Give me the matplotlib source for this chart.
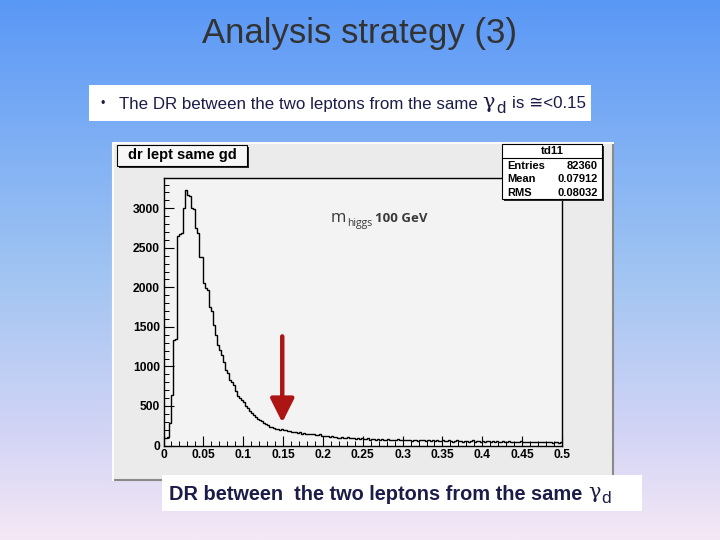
import numpy as np
import matplotlib
matplotlib.use("Agg")
import matplotlib.pyplot as plt
from matplotlib.patches import Rectangle
from matplotlib.ticker import MultipleLocator, FixedLocator, FixedFormatter

# ---------------- data ----------------
hist_name = "td11"
hist_title = "dr lept same gd"
x_range = (0.0, 0.5)
counts = [90, 100, 105, 280, 640, 1340, 1350, 2650, 2680, 2690, 3000, 3230, 3170, 3150, 3000, 2990, 2750, 2690, 2390, 2380,
          2050, 1990, 1965, 1750, 1700, 1520, 1400, 1270, 1210, 1150,
          1060, 960, 915, 830, 800, 760, 690, 620, 600, 570,
          550, 500, 470, 440, 410, 385, 362, 340, 320, 305,
          290, 270, 255, 240, 230, 220, 210, 205, 200, 210,
          195, 190, 185, 180, 175, 170, 165, 160, 165, 150,
          155, 150, 145, 140, 150, 145, 135, 130, 140, 125,
          120, 125, 115, 110, 120, 105, 110, 100, 95, 105,
          100, 95, 105, 90, 100, 95, 85, 90, 80, 95,
          85,
          80, 90, 75, 85, 80, 70, 85, 75, 80, 70,
          75, 80, 70, 65, 75, 70, 80, 65, 70, 75,
          65, 70, 75, 60, 70, 65, 60, 70, 65, 75,
          60, 65, 70, 55, 65, 60, 70, 60, 55, 65,
          60, 55, 65, 60, 50, 60, 65, 55, 60, 50,
          55, 60, 50, 55, 65, 50, 55, 60, 50, 55,
          50, 55, 60, 45, 55, 50, 55, 45, 50, 55,
          45, 50, 55, 45, 50, 40, 50, 45, 55, 45,
          50, 45, 40, 50, 45, 40, 50, 45, 40, 45,
          40, 45, 50, 40, 35, 45, 40, 35, 40]
stats_labels = ["Entries", "Mean", "RMS"]
stats_values = ["82360", "0.07912", "0.08032"]
x_ticks = [0, 0.05, 0.1, 0.15, 0.2, 0.25, 0.3, 0.35, 0.4, 0.45, 0.5]
x_ticklabels = ["0", "0.05", "0.1", "0.15", "0.2", "0.25", "0.3", "0.35", "0.4", "0.45", "0.5"]
y_ticks = [0, 500, 1000, 1500, 2000, 2500, 3000]
y_ticklabels = ["0", "500", "1000", "1500", "2000", "2500", "3000"]
cut_value = 0.149
slide_title = "Analysis strategy (3)"
bullet_text = "The DR between the two leptons from the same"
bullet_tail = "is \u2245<0.15"
caption_text = "DR between  the two leptons from the same"

W, H = 720, 540
fig = plt.figure(figsize=(W / 100, H / 100), dpi=100)

def rect(x0, y0, x1, y1):
    return [x0 / W, 1 - y1 / H, (x1 - x0) / W, (y1 - y0) / H]

SANS = ["Liberation Sans", "DejaVu Sans"]
GREEK = ["DejaVu Serif"]
NAVY = "#1c1c48"

# ---------------- background ----------------
bg = fig.add_axes([0, 0, 1, 1], zorder=0)
bg.set_xlim(0, W); bg.set_ylim(H, 0); bg.axis("off")
t = np.linspace(0, 1, 256)
stops = [0, 0.5, 0.8, 1.0]
cols = np.array([[90, 152, 246], [160, 196, 242], [210, 212, 245], [245, 232, 246]]) / 255
grad = np.stack([np.interp(t, stops, cols[:, c]) for c in range(3)], axis=1)
bg.imshow(grad[:, None, :], extent=[0, W, H, 0], aspect="auto", zorder=0)

bg.text(360, 34, slide_title, ha="center", va="center", fontsize=25, color="#333333", family=SANS)

bg.add_patch(Rectangle((89, 85), 502, 36, fc="white", ec="none", zorder=1))
bg.text(103, 104, "\u2022", ha="center", va="center", fontsize=9, color=NAVY, family=SANS, zorder=2)
t1 = bg.text(119, 104, bullet_text, ha="left", va="center", fontsize=12.2, color=NAVY, family=SANS, zorder=2)
g1 = bg.annotate("\u03b3", xy=(1, 0.5), xycoords=t1, xytext=(3, 1), textcoords="offset points",
                 ha="left", va="center", fontsize=15, color=NAVY, family=GREEK, zorder=2)
d1 = bg.annotate("d", xy=(1, 0.2), xycoords=g1, xytext=(1, 0), textcoords="offset points",
                 ha="left", va="center", fontsize=12, color=NAVY, family=SANS, zorder=2)
bg.annotate(bullet_tail, xy=(1, 0.5), xycoords=(d1, t1), xytext=(5, 0), textcoords="offset points",
            ha="left", va="center", fontsize=12.2, color=NAVY, family=SANS, zorder=2)

# ROOT canvas
bg.add_patch(Rectangle((113, 143), 500, 337, fc="#ebebeb", ec="none", zorder=1))
bg.plot([113, 613, 613], [480, 480, 143], color="#8a8a8a", lw=1.5, zorder=2)
bg.plot([113, 113, 613], [480, 143, 143], color="#fbfbfb", lw=1.5, zorder=2)

# ---------------- histogram ----------------
ax = fig.add_axes(rect(163.5, 178, 562, 445.5), zorder=1)
ax.set_facecolor("#f3f3f3")
edges = np.linspace(x_range[0], x_range[1], len(counts) + 1)
ax.stairs(counts, edges, color="black", lw=1.0, baseline=None)
ax.set_xlim(*x_range)
ax.set_ylim(0, 3383)
ax.xaxis.set_major_locator(FixedLocator(x_ticks))
ax.xaxis.set_major_formatter(FixedFormatter(x_ticklabels))
ax.xaxis.set_minor_locator(MultipleLocator(0.01))
ax.yaxis.set_major_locator(FixedLocator(y_ticks))
ax.yaxis.set_major_formatter(FixedFormatter(y_ticklabels))
ax.yaxis.set_minor_locator(MultipleLocator(100))
ax.tick_params(which="major", direction="in", length=7, width=0.8, labelsize=8.7, pad=2.5)
ax.tick_params(which="minor", direction="in", length=3.5, width=0.7)
ax.tick_params(top=False, right=False, which="both")
for lab in ax.get_xticklabels() + ax.get_yticklabels():
    lab.set_fontweight("bold"); lab.set_family(SANS)
for s in ax.spines.values():
    s.set_linewidth(1.0); s.set_color("black")

ax.annotate("", xy=(cut_value, 290), xytext=(cut_value, 1380),
            arrowprops=dict(arrowstyle="-|>,head_length=0.9,head_width=0.45", color="#ad1515", lw=3.2,
                            shrinkA=0, shrinkB=0, mutation_scale=16))

# ---------------- overlays ----------------
ov = fig.add_axes([0, 0, 1, 1], zorder=3)
ov.set_xlim(0, W); ov.set_ylim(H, 0); ov.axis("off"); ov.patch.set_alpha(0)

# title pave
ov.add_patch(Rectangle((119, 147), 130, 21, fc="#2a2a2a", ec="none"))
ov.add_patch(Rectangle((117, 145), 130, 21, fc="#f7f7f7", ec="black", lw=0.8))
ov.text(182, 155.5, hist_title, ha="center", va="center", fontsize=10.5, fontweight="bold", family=SANS)

# stats pave
ov.add_patch(Rectangle((504, 146), 100, 55, fc="#2a2a2a", ec="none"))
ov.add_patch(Rectangle((502, 144), 100, 55, fc="white", ec="black", lw=0.8))
ov.plot([502, 602], [158, 158], color="black", lw=0.8)
ov.text(552, 151.5, hist_name, ha="center", va="center", fontsize=8.2, fontweight="bold", family=SANS)
for i, (lab, val) in enumerate(zip(stats_labels, stats_values)):
    yy = 166 + i * 13.5
    ov.text(507, yy, lab, ha="left", va="center", fontsize=8, fontweight="bold", family=SANS)
    ov.text(598, yy, val, ha="right", va="center", fontsize=8, fontweight="bold", family=SANS)

# m_higgs label
MF = ["Open Sans", "DejaVu Sans"]
m1 = ov.text(331, 218, "m", ha="left", va="center", fontsize=12, color="#3a3a3a", family=MF)
m2 = ov.annotate("higgs", xy=(1, 0.5), xycoords=m1, xytext=(0.5, -4), textcoords="offset points",
                 ha="left", va="center", fontsize=7.5, color="#3a3a3a", family=MF)
ov.annotate("100 GeV", xy=(1, 0.5), xycoords=(m2, m1), xytext=(2, 0), textcoords="offset points",
            ha="left", va="center", fontsize=9.5, fontweight="bold", color="#3a3a3a", family=MF)

# caption box
ov.add_patch(Rectangle((162, 475), 480, 36, fc="white", ec="none"))
c1 = ov.text(169, 494, caption_text, ha="left", va="center", fontsize=14.4, fontweight="bold", color=NAVY, family=SANS)
g2 = ov.annotate("\u03b3", xy=(1, 0.5), xycoords=c1, xytext=(4, 1), textcoords="offset points",
                 ha="left", va="center", fontsize=15, color=NAVY, family=GREEK)
ov.annotate("d", xy=(1, 0.2), xycoords=g2, xytext=(1, 0), textcoords="offset points",
            ha="left", va="center", fontsize=12.5, color=NAVY, family=SANS)

fig.savefig("out.png", dpi=100)
